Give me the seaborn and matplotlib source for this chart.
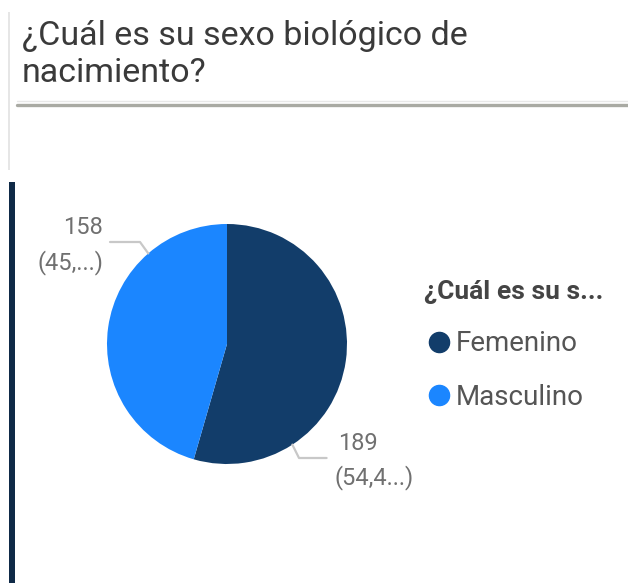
import matplotlib
matplotlib.use("Agg")
import matplotlib.pyplot as plt
from matplotlib.lines import Line2D
from matplotlib.patches import Rectangle
import numpy as np
import seaborn as sns

# Data
categories = ["Femenino", "Masculino"]
counts = [189, 158]
pct_labels = ["(54,4...)", "(45,...)"]
colors = ["#123d6a", "#1b86ff"]

title = "¿Cuál es su sexo biológico de\nnacimiento?"
legend_title = "¿Cuál es su s..."

sns.set_style("white")
plt.rcParams["font.family"] = ["Roboto", "DejaVu Sans"]

W, H = 628, 583
fig = plt.figure(figsize=(W / 100, H / 100), dpi=100)

def fx(px):
    return px / W

def fy(py):
    return 1 - py / H

# Frame decorations (Power BI card look)
fig.add_artist(Rectangle((fx(8), fy(170)), fx(2), (170 - 12) / H, color="#e6e6e6", lw=0))
fig.add_artist(Rectangle((fx(9), 0), fx(6), (H - 182) / H, color="#0f2a47", lw=0))
fig.add_artist(Line2D([fx(17), 1], [fy(101), fy(101)], color="#e8e8e8", lw=1))
fig.add_artist(Line2D([fx(17), 1], [fy(105), fy(105)], color="#a9aaa3", lw=2.4))

fig.text(fx(22), fy(20), title, ha="left", va="top", fontsize=24.5, color="#3a3a3a",
         linespacing=1.2)

# Pie: center (227, 344) px, radius 120 px
cx, cy, r_px, half = 227, 344, 120, 200
ax = fig.add_axes([fx(cx - half), fy(cy + half), 2 * half / W, 2 * half / H])
lim = half / r_px
ax.axis("off")

wedges, _ = ax.pie(counts, colors=colors, startangle=90, counterclock=False,
                   radius=1, wedgeprops=dict(linewidth=0))
ax.set_xlim(-lim, lim)
ax.set_ylim(-lim, lim)

label_color = "#707070"
line_color = "#c8c8c8"

# Femenino label (lower right)
a = np.deg2rad(-57)
ex, ey = np.cos(a), np.sin(a)
ax.plot([ex, 0.6, 0.83], [ey, -0.95, -0.95], color=line_color, lw=1.6, clip_on=False)
ax.text(0.925, -0.825, str(counts[0]), ha="left", va="center", fontsize=17, color=label_color)
ax.text(0.9, -1.11, pct_labels[0], ha="left", va="center", fontsize=17, color=label_color)

# Masculino label (upper left)
a = np.deg2rad(131)
ex, ey = np.cos(a), np.sin(a)
ax.plot([-0.975, -0.725, ex], [0.85, 0.85, ey], color=line_color, lw=1.6, clip_on=False)
ax.text(-1.033, 0.967, str(counts[1]), ha="right", va="center", fontsize=17, color=label_color)
ax.text(-1.033, 0.683, pct_labels[1], ha="right", va="center", fontsize=17, color=label_color)

# Legend
handles = [Line2D([0], [0], marker="o", linestyle="", markersize=14.5,
                  markerfacecolor=c, markeredgecolor=c) for c in colors]
leg = fig.legend(handles, categories, title=legend_title, loc="upper left",
                 bbox_to_anchor=(fx(424), fy(280)), frameon=False, fontsize=20,
                 title_fontsize=19, handletextpad=0.05, handlelength=1.1,
                 labelspacing=0.95, borderpad=0, borderaxespad=0,
                 labelcolor="#555555")
leg._legend_box.align = "left"
leg.get_title().set_color("#444444")
leg.get_title().set_fontweight("bold")

fig.savefig("out.png", dpi=100)
